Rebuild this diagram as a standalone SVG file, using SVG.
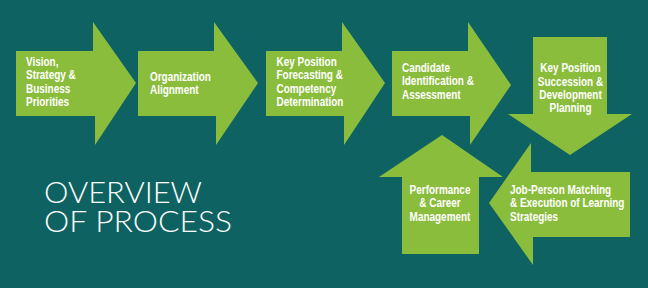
<svg xmlns="http://www.w3.org/2000/svg" width="648" height="288" viewBox="0 0 648 288">
<style>
.arrow{fill:#8bbd3d}
.lbl{font-family:"Liberation Sans",Arial,sans-serif;font-weight:bold;font-size:12px;fill:#ffffff}
.mid{text-anchor:middle}
.title{font-family:Lato,"Open Sans","Liberation Sans",sans-serif;font-weight:300;font-size:29px;fill:#ffffff}
</style>
<rect width="648" height="288" fill="#0e6262"/>
<g id="title">
<text class="title" x="44" y="203" textLength="158" lengthAdjust="spacingAndGlyphs">OVERVIEW</text>
<text class="title" x="44" y="232" textLength="188" lengthAdjust="spacingAndGlyphs">OF PROCESS</text>
</g>
<g id="connectors"/>
<g id="n1">
<polygon class="arrow" points="16,51 93,51 93,22 136,83 95,145 95,116 16,116"/>
<g transform="translate(26,0) scale(0.83,1)">
<text class="lbl" x="0" y="66">Vision,</text>
<text class="lbl" x="0" y="79.3">Strategy &amp;</text>
<text class="lbl" x="0" y="92.6">Business</text>
<text class="lbl" x="0" y="105.9">Priorities</text>
</g>
</g>
<g id="n2">
<polygon class="arrow" points="138,51 214,51 214,22 258,83 216,145 216,116 138,116"/>
<g transform="translate(150,0) scale(0.83,1)">
<text class="lbl" x="0" y="81">Organization</text>
<text class="lbl" x="0" y="94.3">Alignment</text>
</g>
</g>
<g id="n3">
<polygon class="arrow" points="266,51 342,51 342,22 385,83 344,145 344,116 266,116"/>
<g transform="translate(276.5,0) scale(0.83,1)">
<text class="lbl" x="0" y="66">Key Position</text>
<text class="lbl" x="0" y="79.3">Forecasting &amp;</text>
<text class="lbl" x="0" y="92.6">Competency</text>
<text class="lbl" x="0" y="105.9">Determination</text>
</g>
</g>
<g id="n4">
<polygon class="arrow" points="392,51 468,51 468,22 511,85 470,145 470,116 392,116"/>
<g transform="translate(402,0) scale(0.83,1)">
<text class="lbl" x="0" y="72">Candidate</text>
<text class="lbl" x="0" y="85.3">Identification &amp;</text>
<text class="lbl" x="0" y="98.6">Assessment</text>
</g>
</g>
<g id="n5">
<polygon class="arrow" points="533,37 607,37 607,114 632,114 570,155 508,114 533,114"/>
<g transform="translate(570.5,0) scale(0.83,1)">
<text class="lbl mid" x="0" y="72.3">Key Position</text>
<text class="lbl mid" x="0" y="85.6">Succession &amp;</text>
<text class="lbl mid" x="0" y="98.9">Development</text>
<text class="lbl mid" x="0" y="112.2">Planning</text>
</g>
</g>
<g id="n6">
<polygon class="arrow" points="630,172 630,237 533,237 533,265 489,203 531,143 531,172"/>
<g transform="translate(510,0) scale(0.83,1)">
<text class="lbl" x="0" y="194">Job-Person Matching</text>
<text class="lbl" x="0" y="207.3">&amp; Execution of Learning</text>
<text class="lbl" x="0" y="220.6">Strategies</text>
</g>
</g>
<g id="n7">
<polygon class="arrow" points="442,135 503,177 479,177 479,254 402,254 402,177 379,177"/>
<g transform="translate(440,0) scale(0.83,1)">
<text class="lbl mid" x="0" y="194">Performance</text>
<text class="lbl mid" x="0" y="207.3">&amp; Career</text>
<text class="lbl mid" x="0" y="220.6">Management</text>
</g>
</g>
</svg>
